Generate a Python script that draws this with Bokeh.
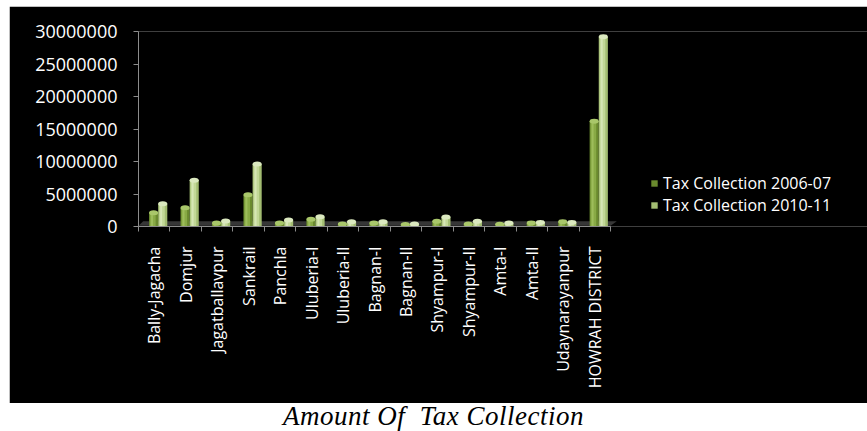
import math
from bokeh.plotting import figure
from bokeh.models import (Range1d, FixedTicker, BasicTickFormatter, Legend, LegendItem,
                          ColumnDataSource, Div, LinearAxis)
from bokeh.layouts import column
from bokeh.embed import file_html
from bokeh.resources import INLINE

# Tax collection by block, Howrah district
blocks = ["Bally-Jagacha", "Domjur", "Jagatballavpur", "Sankrail", "Panchla",
          "Uluberia-I", "Uluberia-II", "Bagnan-I", "Bagnan-II", "Shyampur-I",
          "Shyampur-II", "Amta-I", "Amta-II", "Udaynarayanpur", "HOWRAH DISTRICT"]
tax_2006_07 = [2100000, 2900000, 550000, 4900000, 550000, 1100000, 400000, 550000,
               300000, 800000, 400000, 350000, 550000, 750000, 16200000]
tax_2010_11 = [3500000, 7100000, 850000, 9600000, 1000000, 1500000, 750000, 750000,
               400000, 1450000, 800000, 550000, 600000, 600000, 29200000]
y_ticks = [0, 5000000, 10000000, 15000000, 20000000, 25000000, 30000000]

FONT = "Open Sans"
n = len(blocks)
bar_w = 0.29

# the frame runs to the right edge so the legend can sit beside the bars
p = figure(width=858, height=397, output_backend="svg", toolbar_location=None,
           x_range=Range1d(0, 23.165), y_range=Range1d(0, 30000000),
           min_border_left=129, min_border_right=0, min_border_top=25,
           min_border_bottom=177, x_axis_type=None)
p.margin = (6, 0, 0, 9)
p.background_fill_color = "black"
p.border_fill_color = "black"
p.outline_line_color = None
p.xgrid.visible = False
p.ygrid.visible = False

# y axis
ya = p.yaxis[0]
ya.ticker = FixedTicker(ticks=y_ticks, minor_ticks=[])
ya.formatter = BasicTickFormatter(use_scientific=False)
ya.axis_line_color = "#8c8c8c"
ya.major_tick_line_color = "#8c8c8c"
ya.major_tick_out = 5
ya.major_tick_in = 0
ya.minor_tick_line_color = None
ya.major_label_standoff = 16
ya.major_label_text_color = "white"
ya.major_label_text_font = FONT
ya.major_label_text_font_size = "18px"

# x axis: labels at block centres, tick marks on block boundaries
centres = [i + 0.5 for i in range(n)]
xa = LinearAxis(ticker=FixedTicker(ticks=centres, minor_ticks=list(range(n + 1))),
                major_label_overrides={c: b for c, b in zip(centres, blocks)},
                bounds=(0, n))
xa.axis_line_color = "#8c8c8c"
xa.major_tick_line_color = None
xa.major_tick_out = 0
xa.major_tick_in = 0
xa.minor_tick_line_color = "#8c8c8c"
xa.minor_tick_out = 5
xa.minor_tick_in = 0
xa.major_label_orientation = math.pi / 2
xa.major_label_standoff = 15
xa.major_label_text_color = "white"
xa.major_label_text_font = FONT
xa.major_label_text_font_size = "16px"
p.add_layout(xa, "below")

# floor slab under the bars
p.patch(x=[0.0, 15.0, 15.2, 0.15], y=[100000, 100000, 800000, 800000],
        fill_color="#363636", line_color=None)

def cylinders(offset, values, edge, body, shine, cap):
    xs = [i + offset for i in range(n)]
    src = ColumnDataSource(dict(x=xs, top=values))
    base = p.vbar(x="x", top="top", bottom=0, width=bar_w, source=src,
                  fill_color=edge, line_color=None)
    p.vbar(x=[x - 0.025 for x in xs], top=values, bottom=0, width=bar_w * 0.62,
           fill_color=body, line_color=None)
    p.vbar(x=[x - 0.05 for x in xs], top=values, bottom=0, width=bar_w * 0.22,
           fill_color=shine, line_color=None)
    p.ellipse(x=xs, y=values, width=bar_w, height=5, height_units="screen",
              fill_color=cap, line_color=None)
    return base

r06 = cylinders(0.48, tax_2006_07, "#6a8a2e", "#88aa45", "#9dbd5b", "#a9c76a")
r10 = cylinders(0.77, tax_2010_11, "#a3bd72", "#c2d897", "#d6e6b5", "#dbe9bf")

legend = Legend(items=[LegendItem(label="Tax Collection 2006-07", renderers=[r06]),
                       LegendItem(label="Tax Collection 2010-11", renderers=[r10])],
                location=(512, 10), padding=0, margin=0, spacing=0,
                glyph_width=8, glyph_height=8, label_standoff=5, label_height=18,
                label_text_color="white", label_text_font=FONT,
                label_text_font_size="16px",
                background_fill_alpha=0, border_line_color=None)
p.add_layout(legend, "center")

caption = Div(text='<span style="font-family: \'Liberation Serif\', serif; '
                   'font-style: italic; font-size: 27px; letter-spacing: 0.5px; '
                   'color: black; white-space: nowrap;">'
                   'Amount Of&nbsp; Tax Collection</span>',
              width=584, height=28, margin=(0, 0, 0, 283),
              styles={"line-height": "27px"})

layout = column(p, caption, spacing=0)
open("out.html", "w").write(file_html(layout, INLINE))
